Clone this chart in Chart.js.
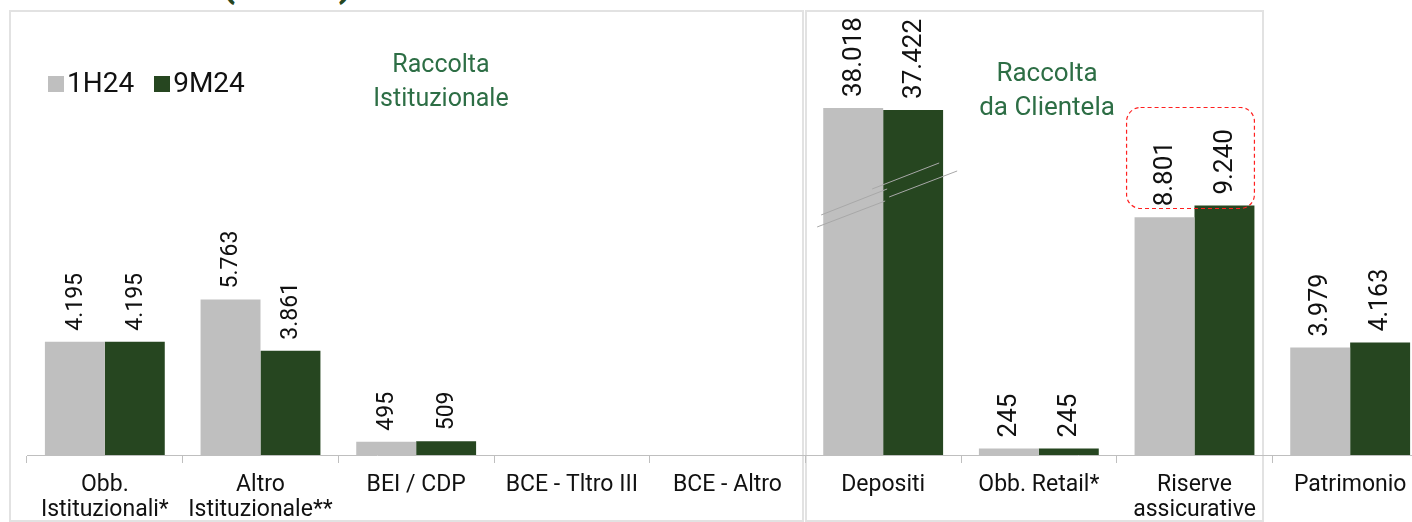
<!DOCTYPE html>
<html>
<head>
<meta charset="utf-8">
<script src="https://cdn.jsdelivr.net/npm/chart.js@4.4.1/dist/chart.umd.min.js"></script>
<style>
  html, body { margin: 0; padding: 0; background: #fff; width: 1412px; height: 522px; overflow: hidden; }
  #wrap { position: relative; width: 1412px; height: 522px; overflow: hidden; font-family: Roboto, "Liberation Sans", sans-serif; }
  .panel { position: absolute; box-sizing: border-box; border: 2px solid #e2e2e2; }
  #p1 { left: 9px; top: 10px; width: 795px; height: 512px; }
  #p2 { left: 805px; top: 10px; width: 459px; height: 512px; }
  #chartBox { position: absolute; left: 0; top: 0; width: 1450px; height: 522px; }
  .title { position: absolute; left: 221px; top: -38px; font-size: 41px; line-height: 40px; font-weight: bold; color: #264620; white-space: nowrap; }
  .note { position: absolute; color: #2d6e45; text-align: center; line-height: 34px; white-space: nowrap; transform: translateX(-50%); }
  #legend { position: absolute; left: 48px; top: 68px; display: flex; align-items: center; font-size: 28px; color: #111; line-height: 30px; }
  #legend .item { display: flex; align-items: center; margin-right: 20px; }
  #legend .swatch { width: 16px; height: 16px; margin-right: 3px; margin-top: 1px; }
</style>
</head>
<body>
<div id="wrap">
  <div class="title">(€ mln)</div>
  <div class="panel" id="p1"></div>
  <div class="panel" id="p2"></div>
  <div id="chartBox"><canvas id="chart" width="1450" height="522"></canvas></div>
  <div id="legend"></div>
  <div class="note" style="left:441px; top:47px; font-size:25px;">Raccolta<br>Istituzionale</div>
  <div class="note" style="left:1047px; top:55px; font-size:26px;">Raccolta<br>da Clientela</div>
</div>
<script>
// Funding breakdown, € mln
const categories = [
  ['Obb.', 'Istituzionali*'],
  ['Altro', 'Istituzionale**'],
  'BEI / CDP',
  'BCE - Tltro III',
  'BCE - Altro',
  'Depositi',
  'Obb. Retail*',
  ['Riserve', 'assicurative'],
  'Patrimonio'
];
const seriesNames = ['1H24', '9M24'];
const values1H24 = [4195, 5763, 495, 0, 0, 38018, 245, 8801, 3979];
const values9M24 = [4195, 3861, 509, 0, 0, 37422, 245, 9240, 4163];
const seriesColors = ['#bfbfbf', '#264620'];

// Which block each category belongs to: institutional, customer, equity
const blockOf = [0, 0, 0, 0, 0, 1, 1, 1, 2];
const blockLabelSize = [23, 26, 25];

// Value axis is broken above this level; the part beyond it is compressed
const axisBreak = 9500;
const breakRatio = 0.1175;
const axisTop = 16850;
const breakCategory = 5;      // Depositi
const highlightCategory = 7;  // Riserve assicurative

class BrokenLinearScale extends Chart.LinearScale {
  compress(v) { return v > axisBreak ? axisBreak + (v - axisBreak) * breakRatio : v; }
  getPixelForValue(v) { return super.getPixelForValue(this.compress(v)); }
  getValueForPixel(p) {
    const u = super.getValueForPixel(p);
    return u > axisBreak ? axisBreak + (u - axisBreak) / breakRatio : u;
  }
}
BrokenLinearScale.id = 'brokenLinear';
BrokenLinearScale.defaults = Chart.LinearScale.defaults;
Chart.register(BrokenLinearScale);

const fmt = v => String(v).replace(/\B(?=(\d{3})+(?!\d))/g, '.');

// Rotated value labels above each bar
const valueLabels = {
  id: 'valueLabels',
  afterDatasetsDraw(chart) {
    const ctx = chart.ctx;
    chart.data.datasets.forEach((ds, di) => {
      const meta = chart.getDatasetMeta(di);
      meta.data.forEach((bar, i) => {
        const v = ds.data[i];
        if (!v) return;
        ctx.save();
        ctx.translate(bar.x + 1, bar.y - 11);
        ctx.rotate(-Math.PI / 2);
        ctx.font = blockLabelSize[blockOf[i]] + 'px Roboto, "Liberation Sans", sans-serif';
        ctx.fillStyle = '#111';
        ctx.textAlign = 'left';
        ctx.textBaseline = 'middle';
        ctx.fillText(fmt(v), 0, 0);
        ctx.restore();
      });
    });
  }
};

// Slash marks across the broken bars
const breakMarks = {
  id: 'breakMarks',
  afterDatasetsDraw(chart) {
    const ctx = chart.ctx;
    const a = chart.getDatasetMeta(0).data[breakCategory];
    const b = chart.getDatasetMeta(1).data[breakCategory];
    const cx = (a.x + b.x) / 2;
    const yb = chart.scales.y.getPixelForValue(axisBreak);
    const segs = [
      [-62, 16.5, 4, -9.5],
      [-66, 28.5, 2, 2.5],
      [-11, -9.5, 56, -35.5],
      [6, -1.5, 74, -27.5]
    ];
    ctx.save();
    ctx.strokeStyle = '#a8a8a8';
    ctx.lineWidth = 1;
    segs.forEach(s => {
      ctx.beginPath();
      ctx.moveTo(cx + s[0], yb + s[1]);
      ctx.lineTo(cx + s[2], yb + s[3]);
      ctx.stroke();
    });
    ctx.restore();
  }
};

// Dashed highlight around the insurance reserves labels
const highlightBox = {
  id: 'highlightBox',
  afterDatasetsDraw(chart) {
    const ctx = chart.ctx;
    const a = chart.getDatasetMeta(0).data[highlightCategory];
    const b = chart.getDatasetMeta(1).data[highlightCategory];
    const left = a.x - a.width / 2 - 8;
    const right = b.x + b.width / 2;
    const bottom = b.y + 3;
    const top = b.y - 98;
    const r = 14;
    ctx.save();
    ctx.strokeStyle = '#ff2020';
    ctx.lineWidth = 1.2;
    ctx.setLineDash([4, 3]);
    ctx.beginPath();
    ctx.roundRect(left, top, right - left, bottom - top, r);
    ctx.stroke();
    ctx.restore();
  }
};

const datasets = [values1H24, values9M24].map((vals, i) => ({
  label: seriesNames[i],
  data: vals,
  backgroundColor: seriesColors[i],
  borderWidth: 0,
  categoryPercentage: 0.77,
  barPercentage: 1.0
}));

// HTML legend built from the series
const legendEl = document.getElementById('legend');
seriesNames.forEach((name, i) => {
  const item = document.createElement('div');
  item.className = 'item';
  const sw = document.createElement('span');
  sw.className = 'swatch';
  sw.style.background = seriesColors[i];
  const tx = document.createElement('span');
  tx.textContent = name;
  item.appendChild(sw);
  item.appendChild(tx);
  legendEl.appendChild(item);
});

new Chart(document.getElementById('chart'), {
  type: 'bar',
  data: { labels: categories, datasets },
  options: {
    responsive: false,
    animation: false,
    devicePixelRatio: 1,
    layout: { padding: { left: 27, right: 22, top: 0, bottom: 0 } },
    plugins: { legend: { display: false }, tooltip: { enabled: false } },
    scales: {
      x: {
        afterFit(scale) { scale.height = 67; },
        grid: { display: true, drawOnChartArea: false, drawTicks: true, tickLength: 8, color: '#bfbfbf', offset: true },
        border: { display: true, color: '#bfbfbf', width: 1 },
        ticks: {
          autoSkip: false, maxRotation: 0, minRotation: 0, padding: 10,
          color: '#111',
          font: { family: 'Roboto, "Liberation Sans", sans-serif', size: 23, lineHeight: 1.09 }
        }
      },
      y: { type: 'brokenLinear', min: 0, max: axisTop, display: false }
    }
  },
  plugins: [valueLabels, breakMarks, highlightBox]
});
</script>
</body>
</html>
